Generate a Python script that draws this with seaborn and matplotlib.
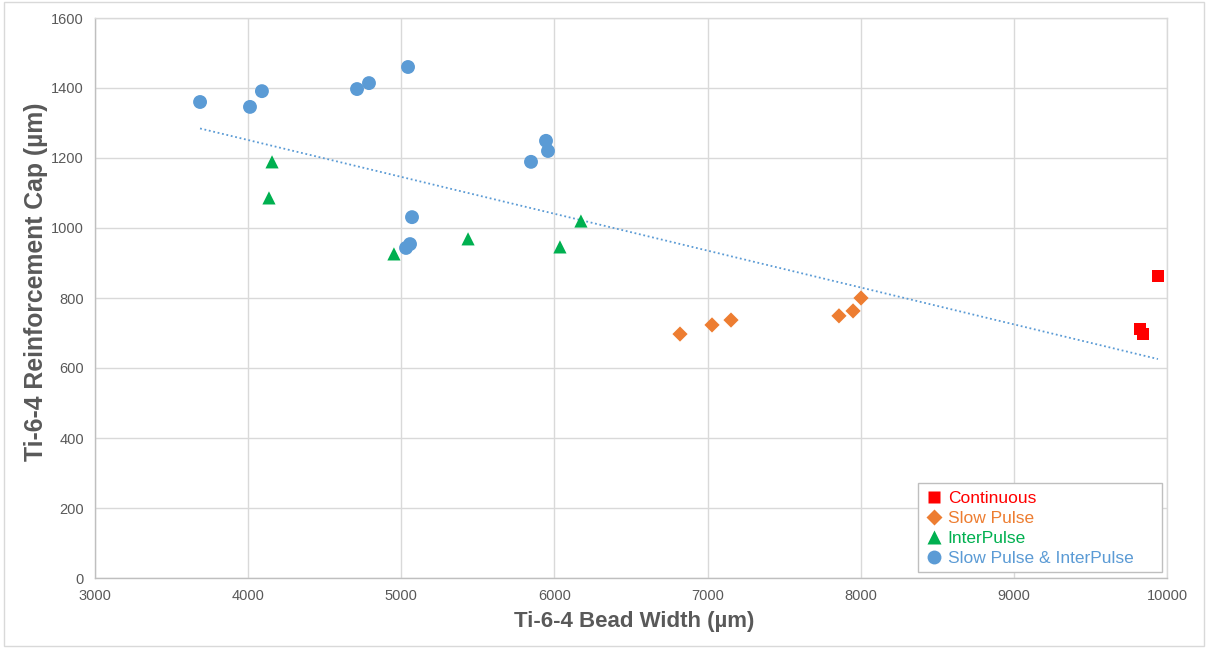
import numpy as np
import pandas as pd
import matplotlib
matplotlib.use("Agg")
import matplotlib.pyplot as plt
from matplotlib.lines import Line2D
from matplotlib.patches import Rectangle
import seaborn as sns

# ---- data ----
cont_x = [9941, 9824, 9843]
cont_y = [863, 711, 697]

slow_x = [6820, 7029, 7153, 7858, 7950, 8002]
slow_y = [697, 723, 737, 749, 763, 800]

inter_x = [4156, 4136, 4952, 5436, 6036, 6173]
inter_y = [1189, 1086, 926, 969, 946, 1020]

both_x = [3686, 4012, 4090, 4711, 4789, 5044, 5945, 5958, 5847, 5070, 5057, 5031]
both_y = [1360, 1346, 1391, 1397, 1414, 1460, 1249, 1220, 1189, 1031, 954, 943]

series_names = ["Continuous", "Slow Pulse", "InterPulse", "Slow Pulse & InterPulse"]
x_ticks = [3000, 4000, 5000, 6000, 7000, 8000, 9000, 10000]
y_ticks = [0, 200, 400, 600, 800, 1000, 1200, 1400, 1600]

colors = {"Continuous": "#FF0000", "Slow Pulse": "#ED7D31",
          "InterPulse": "#00B050", "Slow Pulse & InterPulse": "#5B9BD5"}
markers = {"Continuous": "s", "Slow Pulse": "D",
           "InterPulse": "^", "Slow Pulse & InterPulse": "o"}
sizes = {"Continuous": 80, "Slow Pulse": 60, "InterPulse": 90, "Slow Pulse & InterPulse": 100}

frames = []
for name, xs, ys in zip(series_names, [cont_x, slow_x, inter_x, both_x],
                        [cont_y, slow_y, inter_y, both_y]):
    frames.append(pd.DataFrame({"x": xs, "y": ys, "series": name}))
df = pd.concat(frames, ignore_index=True)

sns.set_style("white")
plt.rcParams["font.family"] = ["Liberation Sans", "DejaVu Sans"]

W, H = 1208, 648
fig = plt.figure(figsize=(W / 100, H / 100), dpi=100)
ax = fig.add_axes([95 / W, 1 - 578 / H, (1167 - 95) / W, (578 - 18) / H])

# outer chart border
fig.patches.append(Rectangle((4 / W, 2 / H), 1 - 8 / W, 1 - 4 / H,
                             transform=fig.transFigure, fill=False,
                             edgecolor="#d9d9d9", linewidth=1))

# trendline over all points
sns.regplot(data=df, x="x", y="y", scatter=False, ci=None, ax=ax,
            line_kws=dict(color="#5B9BD5", linestyle=(0, (1, 1.5)), linewidth=1.3))

for name in series_names:
    sub = df[df["series"] == name]
    sns.scatterplot(data=sub, x="x", y="y", ax=ax, color=colors[name],
                    marker=markers[name], s=sizes[name], edgecolor="none",
                    linewidth=0, zorder=3, legend=False)

ax.set_xlim(3000, 10000)
ax.set_ylim(0, 1600)
ax.set_xticks(x_ticks)
ax.set_yticks(y_ticks)
ax.grid(True, color="#d9d9d9", linewidth=1)
ax.set_axisbelow(True)
for s in ax.spines.values():
    s.set_color("#d9d9d9")
    s.set_linewidth(1)
ax.spines["left"].set_color("#bfbfbf")
ax.spines["bottom"].set_color("#bfbfbf")
ax.tick_params(axis="both", length=0, labelsize=10.5, labelcolor="#595959", pad=8)

ax.set_xlabel("Ti-6-4 Bead Width (µm)", fontsize=16, fontweight="bold", color="#595959")
ax.set_ylabel("Ti-6-4 Reinforcement Cap (µm)", fontsize=17.8, fontweight="bold",
              color="#595959")
ax.xaxis.label.set_verticalalignment("center")
ax.yaxis.label.set_verticalalignment("center")
ax.xaxis.set_label_coords((634 - 95) / 1072, (578 - 621) / 560)
ax.yaxis.set_label_coords((36 - 95) / 1072, (578 - 282) / 560)

# legend box
ax.add_patch(Rectangle((918 / W, 1 - 572 / H), 244 / W, 89 / H,
                       transform=fig.transFigure, facecolor="white",
                       edgecolor="#bfbfbf", linewidth=1, zorder=4, clip_on=False))

handles = [Line2D([0], [0], marker=markers[n], color="none", markerfacecolor=colors[n],
                  markeredgecolor="none",
                  markersize={"Continuous": 9, "Slow Pulse": 8.5,
                              "InterPulse": 10, "Slow Pulse & InterPulse": 10}[n])
           for n in series_names]
leg = ax.legend(handles, series_names, loc="upper left",
                bbox_to_anchor=(926 / W, 1 - 491 / H), bbox_transform=fig.transFigure,
                frameon=False, fontsize=12.5,
                labelcolor=[colors[n] for n in series_names],
                handlelength=0.9, handletextpad=0.35, borderpad=0, labelspacing=0.27,
                borderaxespad=0)
leg.set_zorder(5)

fig.savefig("out.png", dpi=100, facecolor="white")
